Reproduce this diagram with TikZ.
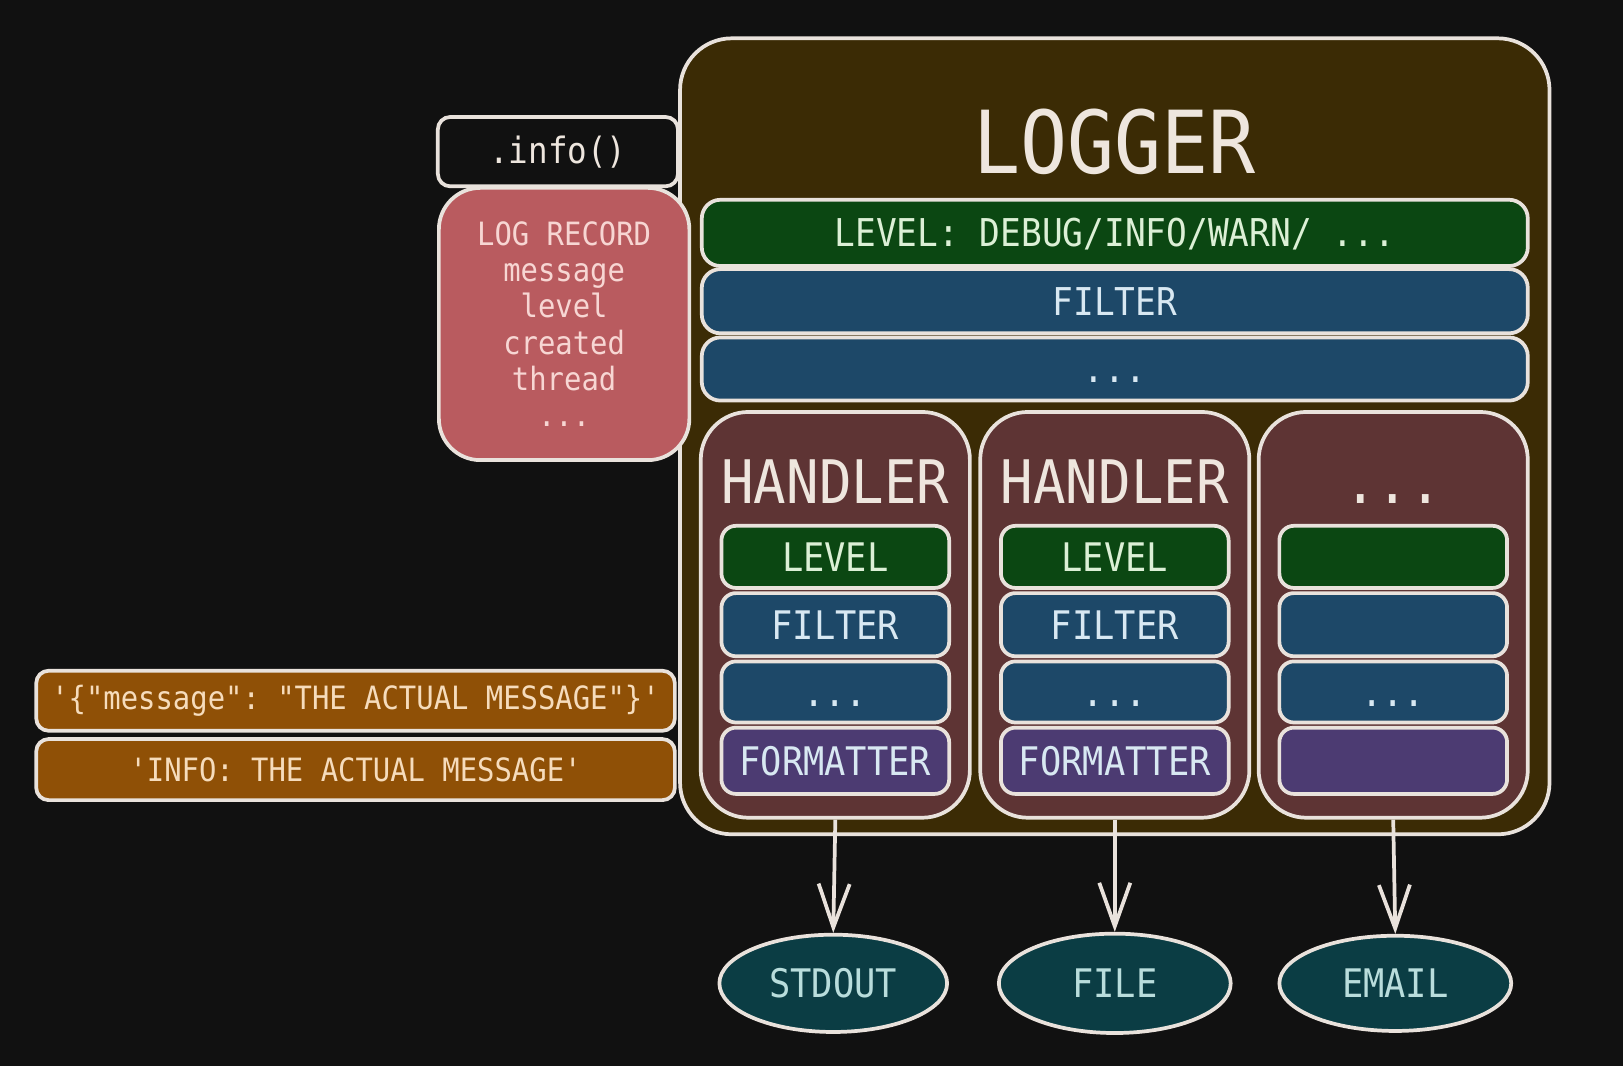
\documentclass[tikz,border=0pt]{standalone}
\usepackage{fontspec}
\setmonofont[FakeStretch=0.9]{DejaVu Sans Mono}
\usetikzlibrary{arrows.meta,shapes.geometric}
\definecolor{bgc}{HTML}{111111}
\definecolor{edge}{HTML}{E9E2DC}
\definecolor{loggerc}{HTML}{3B2B05}
\definecolor{greenc}{HTML}{0B4712}
\definecolor{bluec}{HTML}{1D4868}
\definecolor{handc}{HTML}{5E3434}
\definecolor{purplec}{HTML}{4C3B72}
\definecolor{recordc}{HTML}{B95B5F}
\definecolor{orangec}{HTML}{8F5006}
\definecolor{ellc}{HTML}{0B3D44}
\definecolor{txt}{HTML}{EEE6DE}
\definecolor{greentxt}{HTML}{DCF0D6}
\definecolor{bluetxt}{HTML}{D8E8F2}
\definecolor{recordtxt}{HTML}{F7D6D3}
\definecolor{orangetxt}{HTML}{F6DCBC}
\definecolor{elltxt}{HTML}{B9DDDC}
\newcommand\mydots{...}
\begin{document}
\begin{tikzpicture}[x=0.5pt,y=-0.5pt,
  box/.style={draw=edge, line width=1.8pt, inner sep=0pt, font=\ttfamily\fontsize{19pt}{23pt}\selectfont},
  widebar/.style={box, rounded corners=9pt, minimum width=399pt, text height=13.5pt, text depth=0pt, font=\ttfamily\fontsize{18.5pt}{22pt}\selectfont},
  hbox/.style={box, fill=handc, rounded corners=23pt, minimum width=130pt, minimum height=196pt},
  inbar/.style={box, rounded corners=7pt, minimum width=110pt, text height=13.9pt, text depth=0pt},
  greenbar/.style={fill=greenc, text=greentxt},
  bluebar/.style={fill=bluec, text=bluetxt},
  purplebar/.style={fill=purplec, text=bluetxt},
  orangebar/.style={box, fill=orangec, text=orangetxt, rounded corners=6pt, minimum width=308.5pt, font=\ttfamily\fontsize{15.5pt}{18pt}\selectfont},
  htitle/.style={anchor=base, text=txt, inner sep=0pt, font=\ttfamily\fontsize{29pt}{34pt}\selectfont},
  dest/.style={box, ellipse, fill=ellc, text=elltxt},
  flow/.style={draw=edge, line width=1.8pt, -{Straight Barb[length=21pt,width=15pt,line width=1.8pt]}}
]
\fill[bgc] (0,0) rectangle (1568,1030);
\useasboundingbox (0,0) rectangle (1568,1030);

% Logger
\node[box, fill=loggerc, rounded corners=25pt, minimum width=420pt, minimum height=384.5pt] (logger) at (1077,421.5) {};
\node[text=txt, inner sep=0pt, font=\ttfamily\fontsize{42pt}{48pt}\selectfont] (loggert) at (1077,137) {LOGGER};
\node[widebar, greenbar, minimum height=32pt] (lvl) at (1077,225) {LEVEL: DEBUG/INFO/WARN/ ...};
\node[widebar, bluebar, minimum height=31pt] (flt) at (1077,291) {FILTER};
\node[widebar, bluebar, minimum height=30.5pt] (dots) at (1077,356.5) {...};

% Handlers
\foreach \i/\x/\t/\a/\b/\c in {1/807/HANDLER/LEVEL/FILTER/FORMATTER, 2/1077/HANDLER/LEVEL/FILTER/FORMATTER, 3/1346/\mydots/{}/{}/{}}{
  \node[hbox] (h\i) at (\x,594) {};
  \node[htitle] (ht\i) at (\x,486) {\t};
  \node[inbar, greenbar, minimum height=30pt] (hl\i) at (\x,538) {\a};
  \node[inbar, bluebar, minimum height=30.5pt] (hf\i) at (\x,603.5) {\b};
  \node[inbar, bluebar, minimum height=29.5pt] (hd\i) at (\x,668.5) {\mydots};
  \node[inbar, purplebar, minimum height=32pt] (hm\i) at (\x,735) {\c};
}

% info and record
\node[box, fill=bgc, text=txt, rounded corners=6pt, minimum width=116pt, minimum height=33.5pt, font=\ttfamily\fontsize{17.5pt}{21pt}\selectfont] (info) at (539,146.5) {.info()};
\node[box, fill=recordc, text=recordtxt, rounded corners=20pt, minimum width=121pt, minimum height=131.5pt, align=center, font=\ttfamily\fontsize{15.5pt}{17.5pt}\selectfont] (rec) at (545,313) {LOG RECORD\\message\\level\\created\\thread\\...};

% formatted outputs
\node[orangebar, minimum height=29pt] (json) at (343.5,677) {'\{"message": "THE ACTUAL MESSAGE"\}'};
\node[orangebar, minimum height=29.5pt] (plain) at (343.5,743.5) {'INFO: THE ACTUAL MESSAGE'};

% destinations
\node[dest, minimum width=110pt, minimum height=47pt] (e1) at (805,950) {STDOUT};
\node[dest, minimum width=112pt, minimum height=48pt] (e2) at (1077,950) {FILE};
\node[dest, minimum width=112pt, minimum height=46pt] (e3) at (1348,950) {EMAIL};

\draw[flow] (h1.south) -- (e1.north);
\draw[flow] (h2.south) -- (e2.north);
\draw[flow] (h3.south) -- (e3.north);
\end{tikzpicture}
\end{document}
